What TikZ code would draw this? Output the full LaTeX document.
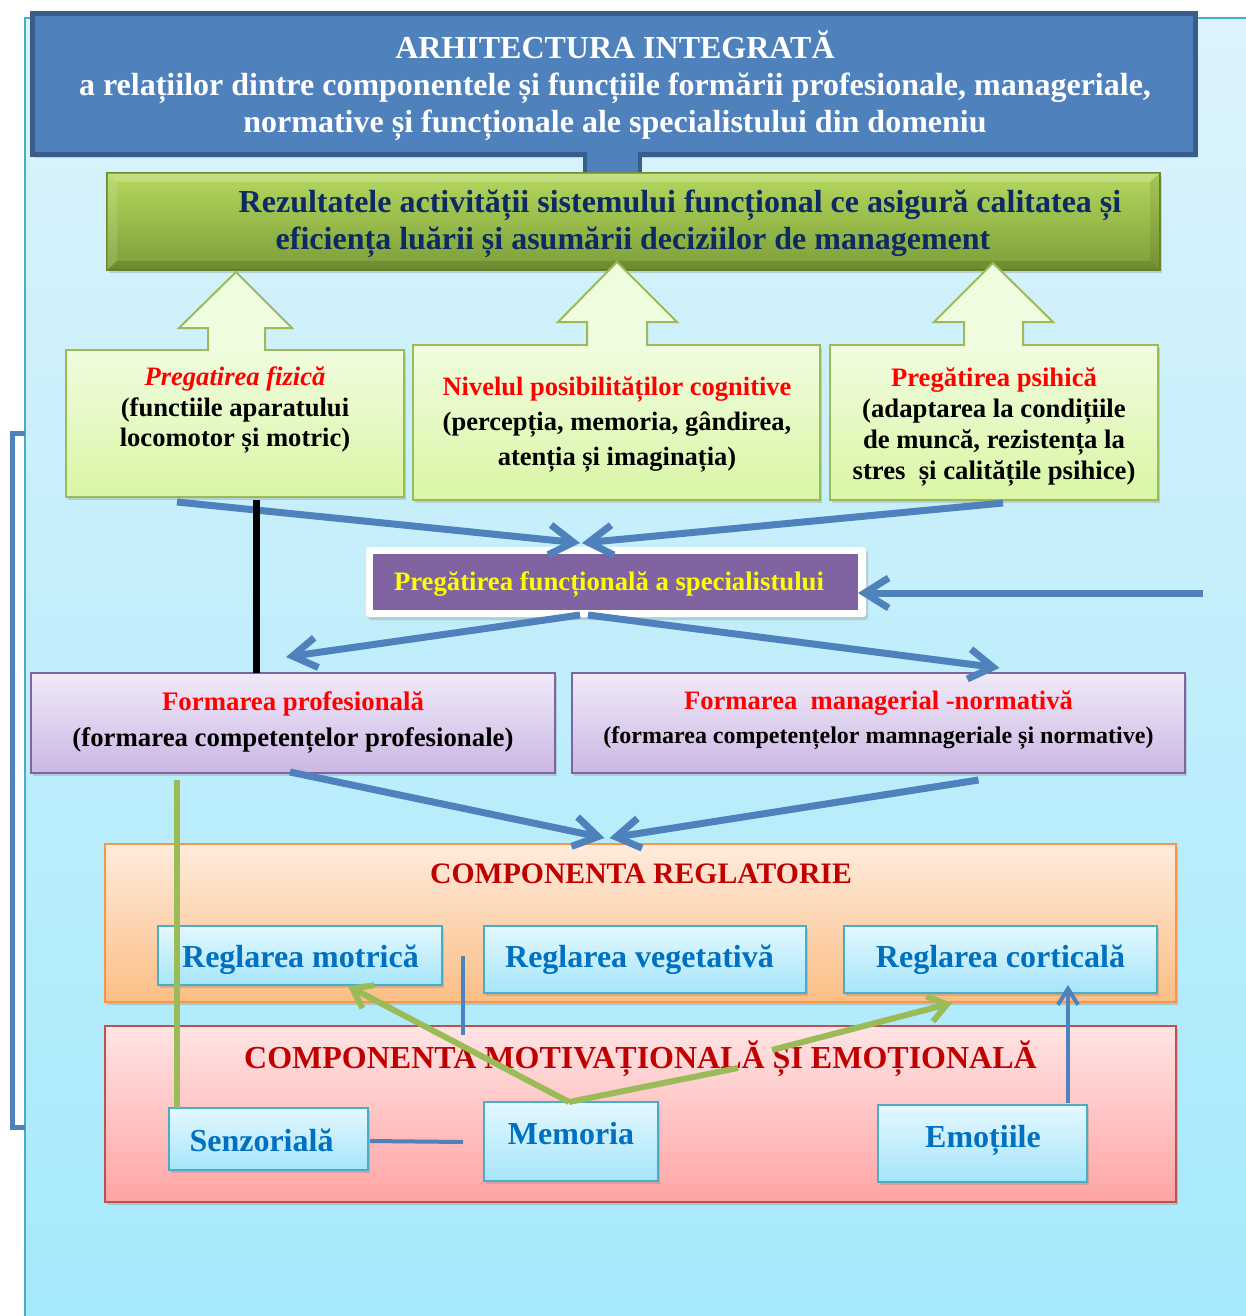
\documentclass[tikz,border=0pt]{standalone}
\usepackage{fontspec}
\setmainfont{Liberation Serif}
\usetikzlibrary{arrows.meta,calc,shadows}

\definecolor{bgtop}{HTML}{DCF3FB}
\definecolor{bgbot}{HTML}{A4E9FC}
\definecolor{bgline}{HTML}{4BACC6}
\definecolor{titlefill}{HTML}{4F81BD}
\definecolor{titleline}{HTML}{385D8A}
\definecolor{gtop}{HTML}{B4D85E}
\definecolor{gbot}{HTML}{7C9E38}
\definecolor{gline}{HTML}{6E8A2E}
\definecolor{navy}{HTML}{0D2A62}
\definecolor{ltop}{HTML}{F0FCDF}
\definecolor{lbot}{HTML}{D9F6A5}
\definecolor{lline}{HTML}{9BBB59}
\definecolor{purp}{HTML}{8064A2}
\definecolor{ptop}{HTML}{F0EAF8}
\definecolor{pbot}{HTML}{CBB7E4}
\definecolor{otop}{HTML}{FFEBDD}
\definecolor{obot}{HTML}{FBBE85}
\definecolor{oline}{HTML}{F79646}
\definecolor{rtop}{HTML}{FFE4E4}
\definecolor{rbot}{HTML}{FFA4A4}
\definecolor{rline}{HTML}{C0504D}
\definecolor{ctop}{HTML}{E3F8FE}
\definecolor{cbot}{HTML}{A6E5FA}
\definecolor{ctext}{HTML}{0070C0}
\definecolor{dred}{HTML}{C00000}
\definecolor{ablue}{HTML}{4F81BD}
\definecolor{agreen}{HTML}{9BBB59}
\definecolor{yel}{HTML}{FFFF00}

\newcommand\fsz[2]{\fontsize{#1}{#2}\selectfont}

\tikzset{
  box/.style={rectangle, inner sep=0pt, outer sep=0pt, line width=2pt},
  shad/.style={drop shadow={shadow xshift=2pt, shadow yshift=-3pt, opacity=0.3}},
  txt/.style={inner sep=0pt, outer sep=0pt, align=center},
  lgbox/.style={box, top color=ltop, bottom color=lbot, draw=lline, shad},
  pubox/.style={box, top color=ptop, bottom color=pbot, draw=purp, shad},
  cybox/.style={box, top color=ctop, bottom color=cbot, draw=bgline, shad},
  bl/.style={draw=ablue, line width=7pt},
  blarr/.style={bl, -{Straight Barb[length=24pt,width=30pt]}},
  gr/.style={draw=agreen, line width=6pt},
  grarr/.style={gr, -{Straight Barb[length=18pt,width=26pt]}},
  blockarr/.style={fill=ltop, draw=lline, line width=2pt, line join=miter},
}

\begin{document}
\begin{tikzpicture}[x=1pt,y=-1pt]
\useasboundingbox (0,0) rectangle (1246,1316);
\fill[white] (0,0) rectangle (1246,1316);
% background panel
\shade[top color=bgtop, bottom color=bgbot] (25,18) rectangle (1262,1330);
\draw[bgline, line width=2pt] (1262,18) -- (25,18) -- (25,1330);

% title
\node[box, fill=titlefill, draw=titleline, line width=5pt, minimum width=1163, minimum height=141, shad] (title) at (613.5,84.5) {};
\node[txt, text=white, font=\bfseries\fsz{32}{37}] (titletxt) at (615,86)
  {ARHITECTURA INTEGRATĂ\\a relațiilor dintre componentele și funcțiile formării profesionale, manageriale,\\normative și funcționale ale specialistului din domeniu};
% stem
\node[box, fill=titlefill, minimum width=55, minimum height=24] (stem) at (612.5,164) {};
\draw[titleline, line width=4pt] (stem.north west) -- (stem.south west) (stem.north east) -- (stem.south east);

% results box
\node[box, top color=gtop, bottom color=gbot, draw=gline, line width=1.5pt, minimum width=1053, minimum height=97, shad] (res) at (633.5,221.5) {};
% bevel
\fill[white, opacity=0.22] (res.north west) -- (res.north east) -- ($(res.north east)+(-10,9)$) -- ($(res.north west)+(10,9)$) -- cycle;
\fill[white, opacity=0.12] (res.north west) -- ($(res.north west)+(10,9)$) -- ($(res.south west)+(10,-9)$) -- (res.south west) -- cycle;
\fill[black, opacity=0.12] (res.south west) -- (res.south east) -- ($(res.south east)+(-10,-9)$) -- ($(res.south west)+(10,-9)$) -- cycle;
\fill[black, opacity=0.08] (res.north east) -- ($(res.north east)+(-10,9)$) -- ($(res.south east)+(-10,-9)$) -- (res.south east) -- cycle;
\node[txt, text=navy, font=\bfseries\fsz{32}{37}] (res1) at (680,205.5) {Rezultatele activității sistemului funcțional ce asigură calitatea și};
\node[txt, text=navy, font=\bfseries\fsz{32}{37}] (res2) at (633,242.5) {eficiența luării și asumării deciziilor de management};

% row of three boxes
\node[lgbox, minimum width=338, minimum height=147] (fiz) at (235,423.5) {};
\node[lgbox, minimum width=407, minimum height=155] (cog) at (616.5,422.5) {};
\node[lgbox, minimum width=328, minimum height=155] (psi) at (994,422.5) {};

% block up arrows
\fill[ltop] (236,272) -- (292,328) -- (265,328) -- (265,353) -- (208,353) -- (208,328) -- (179,328) -- cycle;
\draw[blockarr, fill=none] (265,351) -- (265,328) -- (292,328) -- (236,272) -- (179,328) -- (208,328) -- (208,351);
\fill[ltop] (617,262) -- (677,322) -- (647,322) -- (647,348) -- (587,348) -- (587,322) -- (558,322) -- cycle;
\draw[blockarr, fill=none] (647,346) -- (647,322) -- (677,322) -- (617,262) -- (558,322) -- (587,322) -- (587,346);
\fill[ltop] (993,263) -- (1053,322) -- (1023,322) -- (1023,348) -- (964,348) -- (964,322) -- (934,322) -- cycle;
\draw[blockarr, fill=none] (1023,346) -- (1023,322) -- (1053,322) -- (993,263) -- (934,322) -- (964,322) -- (964,346);

\node[txt, font=\bfseries\fsz{26.6}{30.5}] (fiztxt) at (235,410.5)
  {{\color{red}\itshape Pregatirea fizică}\\(functiile aparatului\\locomotor și motric)};
\node[txt, font=\bfseries\fsz{26.5}{35}] (cogtxt) at (617,425)
  {{\color{red}Nivelul posibilităților cognitive}\\(percepția, memoria, gândirea,\\atenția și imaginația)};
\node[txt, font=\bfseries\fsz{26.7}{31}] (psitxt) at (994,426.5)
  {{\color{red}Pregătirea psihică}\\(adaptarea la condițiile\\de muncă, rezistența la\\stres~ și calitățile psihice)};

% functional box
\node[box, fill=white, rounded corners=3pt, minimum width=500, minimum height=70, shad] (funcframe) at (616,582) {};
\node[box, fill=purp, minimum width=485, minimum height=56] (func) at (615.5,582) {};
\node[txt, text=yel, font=\bfseries\fsz{26.7}{30}] (functxt) at (609,584) {Pregătirea funcțională a specialistului};

% formation boxes
\node[pubox, minimum width=524, minimum height=100] (fp) at (293,723) {};
\node[pubox, minimum width=613, minimum height=100] (fm) at (878.5,723) {};
\node[txt, font=\bfseries\fsz{26.8}{36}] (fptxt) at (293,722)
  {{\color{red}Formarea profesională}\\(formarea competențelor profesionale)};
\node[txt, text=red, font=\bfseries\fsz{26.6}{30}] (fm1) at (878.5,703) {Formarea~ managerial -normativă};
\node[txt, font=\bfseries\fsz{24}{28}] (fm2) at (878.5,738) {(formarea competențelor mamnageriale și normative)};

% regulatory component
\node[box, top color=otop, bottom color=obot, draw=oline, minimum width=1071, minimum height=158, shad] (reg) at (640.5,923) {};
\node[txt, text=dred, font=\bfseries\fsz{29.7}{34}] (regtxt) at (641,874) {COMPONENTA REGLATORIE};
\node[cybox, minimum width=284, minimum height=59] (rm) at (300,955.5) {};
\node[cybox, minimum width=322, minimum height=67] (rv) at (645,959.5) {};
\node[cybox, minimum width=313, minimum height=67] (rc) at (1000.5,959.5) {};
\node[txt, text=ctext, font=\bfseries\fsz{32}{36}] (rmtxt) at (300.5,959.5) {Reglarea motrică};
\node[txt, text=ctext, font=\bfseries\fsz{32}{36}] (rvtxt) at (639.5,959.5) {Reglarea vegetativă};
\node[txt, text=ctext, font=\bfseries\fsz{32}{36}] (rctxt) at (1000.5,959.5) {Reglarea corticală};

% motivational component
\node[box, top color=rtop, bottom color=rbot, draw=rline, minimum width=1071, minimum height=176, shad] (mot) at (640.5,1114) {};
\node[txt, text=dred, font=\bfseries\fsz{32}{36}] (mottxt) at (640.5,1058.5) {COMPONENTA MOTIVAȚIONALĂ ȘI EMOȚIONALĂ};
\node[cybox, minimum width=199, minimum height=62] (sz) at (268.5,1139) {};
\node[cybox, minimum width=174, minimum height=79] (mem) at (571,1141.5) {};
\node[cybox, minimum width=209, minimum height=77] (em) at (982.5,1143.5) {};
\node[txt, text=ctext, font=\bfseries\fsz{32}{36}] (sztxt) at (261.5,1140.5) {Senzorială};
\node[txt, text=ctext, font=\bfseries\fsz{32}{36}] (memtxt) at (571,1133.5) {Memoria};
\node[txt, text=ctext, font=\bfseries\fsz{32}{36}] (emtxt) at (983,1140) {Emoțiile};

% connectors
\coordinate (ext) at (1203,593);
\draw[blarr] ($(fiz.south)+(-58,5)$) -- ($(funcframe.north)+(-36,-4)$);
\draw[blarr] ($(psi.south)+(9,3)$) -- ($(funcframe.north)+(-34,-4)$);
\draw[blarr] (ext) -- ($(func.east)+(0,11)$);
\draw[blarr] ($(funcframe.south)+(-36,-2)$) -- ($(fp.north)+(-7,-16)$);
\draw[blarr] ($(funcframe.south)+(-28,-2)$) -- ($(fm.north)+(121,-5)$);
\draw[blarr] ($(fp.south)+(-3,-1)$) -- ($(reg.north)+(-36,-6)$);
\draw[blarr] ($(fm.south)+(100,7)$) -- ($(reg.north)+(-31,-6)$);
\draw[draw=ablue, line width=4pt, -{Straight Barb[length=16pt,width=20pt]}] ($(em.north)+(85.5,-2)$) -- ($(rc.south)+(67.5,-8)$);
\draw[draw=ablue, line width=4pt] ($(rm.east)+(21,0)$) -- ($(mot.north)+(-177.5,9)$);
\draw[draw=ablue, line width=4pt] ($(sz.east)+(2,2)$) -- ($(mem.west)+(-21,0.5)$);
\draw[black, line width=7pt] ($(fiz.south)+(21,3)$) -- ($(fp.north)+(-37,0)$);

% green connectors
\coordinate (g1) at (738,1068);
\coordinate (g2) at (772,1050);
\draw[gr] ($(fp.south)+(-116,7)$) -- ($(sz.north)+(-91.5,0)$);
\draw[grarr] ($(mem.north)+(-2,0)$) -- ($(rm.south)+(48,1)$);
\draw[gr] ($(mem.north)+(-2,0)$) -- (g1);
\draw[grarr] (g2) -- ($(rc.south)+(-48.5,10)$);

% left bracket
\draw[ablue, line width=5pt] (25,433) -- (12,433) -- (12,1127) -- (25,1127);
\end{tikzpicture}
\end{document}
